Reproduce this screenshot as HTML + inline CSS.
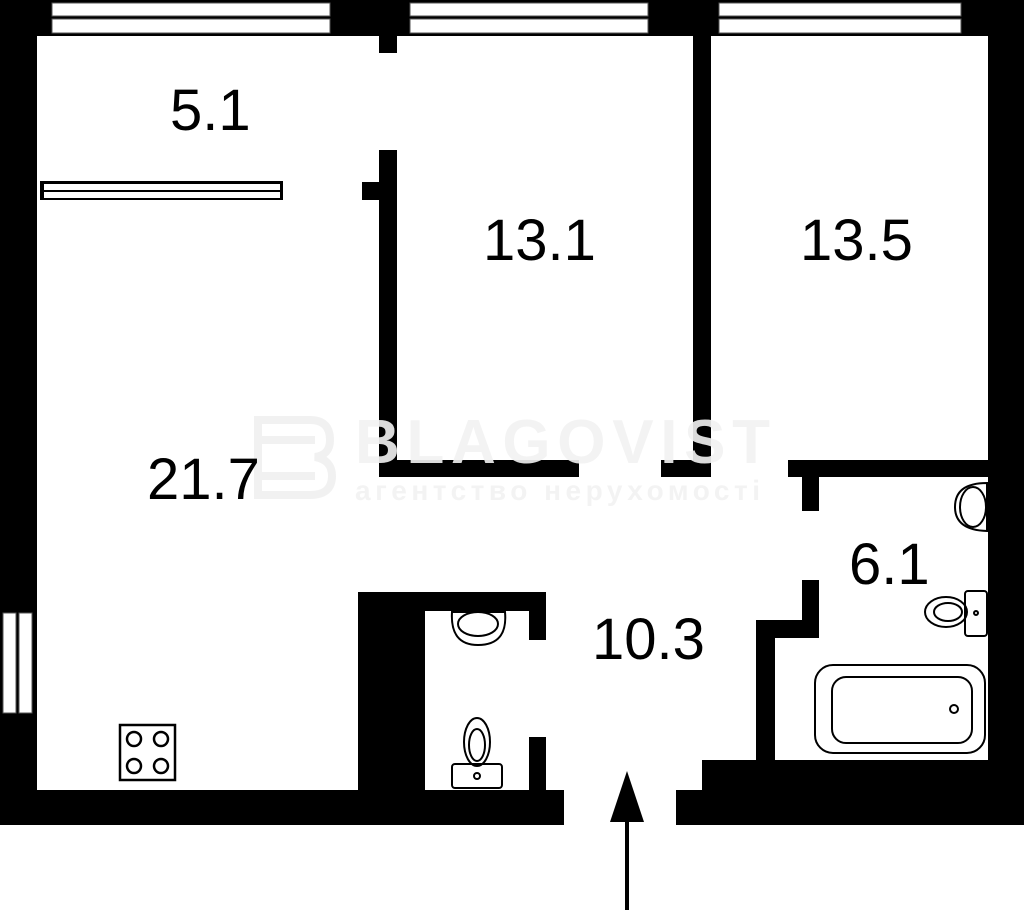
<!DOCTYPE html>
<html><head><meta charset="utf-8"><style>
html,body{margin:0;padding:0;background:#fff;width:1024px;height:913px;overflow:hidden}
</style></head><body>
<svg width="1024" height="913" viewBox="0 0 1024 913" xmlns="http://www.w3.org/2000/svg">
<g fill="#000">
<rect x="0" y="0" width="1024" height="36"/>
<rect x="0" y="0" width="37" height="825"/>
<rect x="988" y="0" width="36" height="825"/>
<rect x="379" y="36" width="18" height="17"/>
<rect x="379" y="150" width="18" height="327"/>
<rect x="362" y="182" width="20" height="18"/>
<rect x="693" y="36" width="18" height="441"/>
<rect x="379" y="460" width="200" height="17"/>
<rect x="661" y="460" width="50" height="17"/>
<rect x="788" y="460" width="210" height="17"/>
<rect x="802" y="477" width="17" height="34"/>
<rect x="802" y="580" width="17" height="58"/>
<rect x="756" y="620" width="63" height="18"/>
<rect x="756" y="620" width="19" height="145"/>
<rect x="702" y="760" width="300" height="35"/>
<rect x="676" y="790" width="348" height="35"/>
<rect x="358" y="592" width="67" height="200"/>
<rect x="358" y="592" width="188" height="19"/>
<rect x="529" y="592" width="17" height="48"/>
<rect x="529" y="737" width="17" height="55"/>
<rect x="0" y="790" width="564" height="35"/>
</g>
<g fill="#fff" stroke="#555" stroke-width="1">
<rect x="52" y="3" width="278" height="13"/><rect x="52" y="19" width="278" height="14"/>
<rect x="410" y="3" width="238" height="13"/><rect x="410" y="19" width="238" height="14"/>
<rect x="719" y="3" width="242" height="13"/><rect x="719" y="19" width="242" height="14"/>
<rect x="3" y="613" width="13" height="100"/><rect x="19" y="613" width="13" height="100"/>
</g>
<rect x="40" y="181" width="243" height="19" fill="#000"/>
<rect x="44" y="184" width="236" height="6" fill="#fff"/>
<rect x="44" y="192" width="236" height="6" fill="#fff"/>
<g fill="none" stroke="#000" stroke-width="2.5">
<rect x="120" y="725" width="55" height="55"/>
<circle cx="134" cy="739" r="7"/><circle cx="161" cy="739" r="7"/>
<circle cx="134" cy="766" r="7"/><circle cx="161" cy="766" r="7"/>
</g>
<g fill="none" stroke="#000" stroke-width="2">
<path d="M452 612 L505 612 Q508 645 478 645 Q450 645 452 612 Z"/>
<ellipse cx="478" cy="624" rx="20" ry="12"/>
<ellipse cx="477" cy="742" rx="13" ry="24"/>
<ellipse cx="477" cy="745" rx="8" ry="16"/>
<rect x="452" y="764" width="50" height="24" rx="3"/>
<circle cx="477" cy="776" r="3"/>
<path d="M987 483 L987 531 Q955 530 955 507 Q955 483 987 483 Z"/>
<ellipse cx="973" cy="507" rx="13" ry="20"/>
<rect x="965" y="591" width="22" height="45" rx="3"/>
<ellipse cx="946" cy="612" rx="21" ry="15"/>
<ellipse cx="948" cy="612" rx="14" ry="9"/>
<circle cx="976" cy="613" r="2"/>
<rect x="815" y="665" width="170" height="88" rx="18"/>
<rect x="832" y="677" width="140" height="66" rx="14"/>
<circle cx="954" cy="709" r="4"/>
</g>
<line x1="627" y1="815" x2="627" y2="910" stroke="#000" stroke-width="4"/>
<polygon points="627,771 610,822 644,822" fill="#000"/>
<g fill="#f2f2f2" font-family="Liberation Sans, sans-serif" font-weight="bold" opacity="0.9">
<text x="355" y="463" font-size="62" textLength="415">BLAGOVIST</text>
<text x="355" y="500" font-size="28" textLength="405">агентство нерухомості</text>
<g fill="none" stroke="#f0f0f0" stroke-width="8">
<path d="M258 420 H310 Q330 420 330 440 Q330 455 315 457 Q332 460 332 476 Q332 495 310 495 H258 Z"/>
<line x1="258" y1="440" x2="315" y2="440"/><line x1="258" y1="476" x2="315" y2="476"/>
</g>
</g>
<g font-family="Liberation Sans, Arial, sans-serif" font-size="58" fill="#000">
<text x="170" y="130">5.1</text>
<text x="483" y="260">13.1</text>
<text x="800" y="260">13.5</text>
<text x="147" y="499">21.7</text>
<text x="849" y="584">6.1</text>
<text x="592" y="659">10.3</text>
</g>
</svg>
</body></html>
